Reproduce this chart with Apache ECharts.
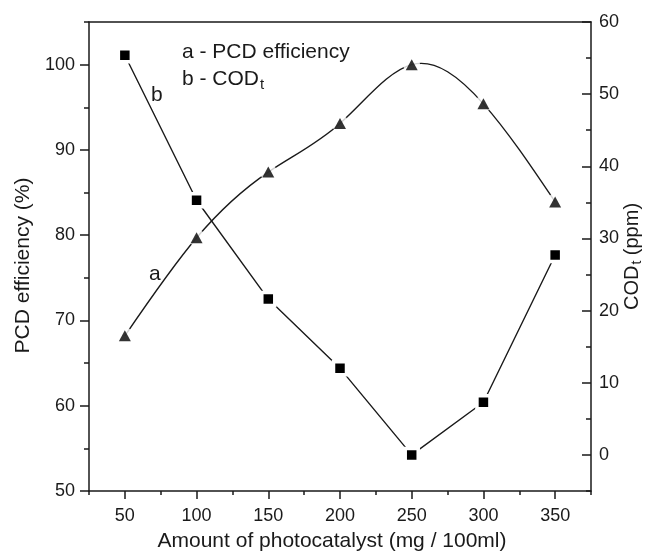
<!DOCTYPE html>
<html>
<head>
<meta charset="utf-8">
<script src="https://cdn.jsdelivr.net/npm/echarts@6/dist/echarts.min.js"></script>
<style>html,body{margin:0;padding:0;background:#fff;}#c{width:649px;height:553px;}</style>
</head>
<body>
<div id="c"></div>
<script>
// Data
const catalystAmount = [50, 100, 150, 200, 250, 300, 350];
const pcdEfficiency = [68.2, 79.7, 87.4, 93.1, 100.0, 95.4, 83.9];
const codT = [55.4, 35.3, 21.6, 12.0, 0.0, 7.3, 27.7];
const xMajorTicks = [50, 100, 150, 200, 250, 300, 350];
const xMinorTicks = [25, 75, 125, 175, 225, 275, 325, 375];
const leftMajorTicks = [50, 60, 70, 80, 90, 100];
const leftMinorTicks = [55, 65, 75, 85, 95, 105];
const rightMajorTicks = [0, 10, 20, 30, 40, 50, 60];
const rightMinorTicks = [-5, 5, 15, 25, 35, 45, 55];

const ink = '#1a1a1a';
const font = 'Liberation Sans, Arial, sans-serif';
const lineStyleAxis = { color: ink, width: 1.5 };

// natural cubic spline derivatives (data space) for a smooth curve through the points
function splineDerivs(xs, ys) {
  const n = xs.length;
  const h = [], M = new Array(n).fill(0);
  for (let i = 0; i < n - 1; i++) h.push(xs[i + 1] - xs[i]);
  const a = [], b = [], c = [], d = [];
  for (let i = 1; i < n - 1; i++) {
    a.push(h[i - 1]); b.push(2 * (h[i - 1] + h[i])); c.push(h[i]);
    d.push(6 * ((ys[i + 1] - ys[i]) / h[i] - (ys[i] - ys[i - 1]) / h[i - 1]));
  }
  const m = d.length;
  for (let i = 1; i < m; i++) {
    const w = a[i] / b[i - 1];
    b[i] -= w * c[i - 1]; d[i] -= w * d[i - 1];
  }
  const sol = new Array(m);
  for (let i = m - 1; i >= 0; i--) sol[i] = (d[i] - (i < m - 1 ? c[i] * sol[i + 1] : 0)) / b[i];
  for (let i = 0; i < m; i++) M[i + 1] = sol[i];
  const segs = [];
  for (let i = 0; i < n - 1; i++) {
    const s = (ys[i + 1] - ys[i]) / h[i];
    segs.push({
      d0: s - h[i] * (2 * M[i] + M[i + 1]) / 6,
      d1: s + h[i] * (M[i] + 2 * M[i + 1]) / 6,
      h: h[i]
    });
  }
  return segs;
}
const pcdSegs = splineDerivs(catalystAmount, pcdEfficiency);

const chart = echarts.init(document.getElementById('c'), null, { renderer: 'canvas' });
const pairs = (xs, ys) => xs.map((x, i) => [x, ys[i]]);

const xCommon = { type: 'value', min: 25, max: 375, splitLine: { show: false } };

chart.setOption({
  backgroundColor: '#fff',
  animation: false,
  grid: { left: 89, right: 58, top: 22, bottom: 62, containLabel: false, outerBoundsMode: 'none' },
  xAxis: [
    Object.assign({}, xCommon, {
      position: 'bottom',
      axisLine: { show: true, onZero: false, lineStyle: lineStyleAxis },
      axisTick: { show: true, customValues: xMajorTicks, length: 8, lineStyle: lineStyleAxis },
      axisLabel: { customValues: xMajorTicks, fontSize: 18, color: ink, fontFamily: font, margin: 16 },
      name: 'Amount of photocatalyst (mg / 100ml)', nameLocation: 'middle', nameGap: 40, nameMoveOverlap: false,
      nameTextStyle: { fontSize: 21, color: ink, fontFamily: font, padding: [0, 16, 0, 0] }
    }),
    Object.assign({}, xCommon, {
      position: 'bottom',
      axisLine: { show: false, onZero: false },
      axisTick: { show: true, customValues: xMinorTicks, length: 4, lineStyle: lineStyleAxis },
      axisLabel: { show: false }
    }),
    Object.assign({}, xCommon, {
      position: 'top',
      axisLine: { show: true, onZero: false, lineStyle: lineStyleAxis },
      axisTick: { show: false }, axisLabel: { show: false }
    })
  ],
  yAxis: [
    {
      type: 'value', min: 50, max: 105, position: 'left',
      axisLine: { show: true, onZero: false, lineStyle: lineStyleAxis },
      axisTick: { show: true, customValues: leftMajorTicks, length: 9, lineStyle: lineStyleAxis },
      axisLabel: { customValues: leftMajorTicks, fontSize: 18, color: ink, fontFamily: font, margin: 14 },
      splitLine: { show: false },
      name: 'PCD efficiency (%)', nameLocation: 'middle', nameGap: 55, nameRotate: 90, nameMoveOverlap: false,
      nameTextStyle: { fontSize: 21, color: ink, fontFamily: font, padding: [0, 0, 0, -18] }
    },
    {
      type: 'value', min: -5, max: 60, position: 'right',
      axisLine: { show: true, onZero: false, lineStyle: lineStyleAxis },
      axisTick: { show: true, inside: true, customValues: rightMajorTicks, length: 9, lineStyle: lineStyleAxis },
      axisLabel: { customValues: rightMajorTicks, fontSize: 18, color: ink, fontFamily: font, margin: 8 },
      splitLine: { show: false },
      name: '{m|COD}{s|t}{m| (ppm)}', nameLocation: 'middle', nameGap: 30, nameRotate: 90, nameMoveOverlap: false,
      nameTextStyle: {
        color: ink, fontFamily: font,
        rich: {
          m: { fontSize: 20, color: ink, fontFamily: font },
          s: { fontSize: 14, color: ink, fontFamily: font, padding: [9, 0, 0, 1] }
        }
      }
    },
    {
      type: 'value', min: 50, max: 105, position: 'left',
      axisLine: { show: false, onZero: false },
      axisTick: { show: true, customValues: leftMinorTicks, length: 5, lineStyle: lineStyleAxis },
      axisLabel: { show: false }, splitLine: { show: false }
    },
    {
      type: 'value', min: -5, max: 60, position: 'right',
      axisLine: { show: false, onZero: false },
      axisTick: { show: true, inside: true, customValues: rightMinorTicks, length: 5, lineStyle: lineStyleAxis },
      axisLabel: { show: false }, splitLine: { show: false }
    }
  ],
  series: [
    {
      name: 'PCD efficiency curve', type: 'custom', xAxisIndex: 0, yAxisIndex: 0,
      data: [[catalystAmount[0], pcdEfficiency[0]]],
      renderItem: function (params, api) {
        let p0 = api.coord([catalystAmount[0], pcdEfficiency[0]]);
        let path = 'M' + p0[0] + ' ' + p0[1];
        for (let i = 0; i < pcdSegs.length; i++) {
          const s = pcdSegs[i];
          const x0 = catalystAmount[i], y0 = pcdEfficiency[i];
          const x1 = catalystAmount[i + 1], y1 = pcdEfficiency[i + 1];
          const c1 = api.coord([x0 + s.h / 3, y0 + s.d0 * s.h / 3]);
          const c2 = api.coord([x1 - s.h / 3, y1 - s.d1 * s.h / 3]);
          const p1 = api.coord([x1, y1]);
          path += ' C' + c1[0] + ' ' + c1[1] + ' ' + c2[0] + ' ' + c2[1] + ' ' + p1[0] + ' ' + p1[1];
        }
        return {
          type: 'path',
          shape: { pathData: path },
          style: { stroke: ink, fill: null, lineWidth: 1.4 }
        };
      },
      z: 2, silent: true
    },
    {
      name: 'PCD halo', type: 'scatter', xAxisIndex: 0, yAxisIndex: 0,
      data: pairs(catalystAmount, pcdEfficiency),
      symbol: 'circle', symbolSize: 17,
      itemStyle: { color: '#fff' }, z: 3, silent: true
    },
    {
      name: 'PCD efficiency', type: 'scatter', xAxisIndex: 0, yAxisIndex: 0,
      data: pairs(catalystAmount, pcdEfficiency),
      symbol: 'triangle', symbolSize: [12, 11],
      itemStyle: { color: '#000' }, z: 4
    },
    {
      name: 'CODt', type: 'line', xAxisIndex: 0, yAxisIndex: 1,
      data: pairs(catalystAmount, codT),
      smooth: false, symbol: 'rect', symbolSize: 13, showSymbol: true,
      itemStyle: { color: '#000', borderColor: '#fff', borderWidth: 3.5 },
      lineStyle: { color: ink, width: 1.4 }, z: 3
    }
  ],
  graphic: [
    { type: 'text', left: 182, top: 42, style: { text: 'a - PCD efficiency', font: '21px ' + font, fill: ink } },
    { type: 'text', left: 182, top: 69, style: {
        text: '{m|b - COD}{s|t}', fill: ink,
        rich: { m: { font: '21px ' + font, fill: ink }, s: { font: '15px ' + font, fill: ink, padding: [10, 0, 0, 1] } }
      } },
    { type: 'text', left: 151, top: 85, style: { text: 'b', font: '21px ' + font, fill: ink } },
    { type: 'text', left: 149, top: 264, style: { text: 'a', font: '21px ' + font, fill: ink } }
  ]
});
</script>
</body>
</html>
